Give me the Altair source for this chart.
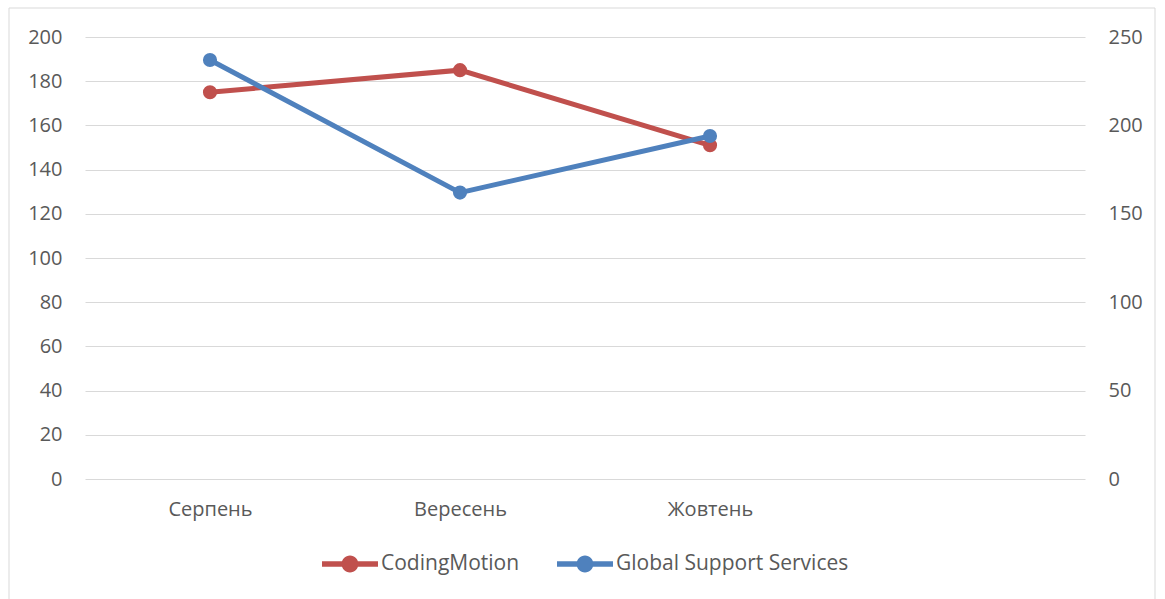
import altair as alt
import pandas as pd

months = ["Серпень", "Вересень", "Жовтень"]
domain_x = ["Серпень", "Вересень", "Жовтень", " "]
coding = [175, 185, 151]
gss = [237, 162, 194]
series = ["CodingMotion", "Global Support Services"]
colors = ["#C0504D", "#4F81BD"]
left_ticks = list(range(0, 201, 20))
right_ticks = list(range(0, 251, 50))

df_c = pd.DataFrame({"month": months, "value": coding, "series": series[0]})
df_g = pd.DataFrame({"month": months, "value": gss, "series": series[1]})

FONT = "Open Sans"
TXT = "#595959"
FS = 20

xenc = alt.X("month:N", sort=domain_x,
             scale=alt.Scale(type="point", padding=0.5, domain=domain_x),
             axis=alt.Axis(title=None, domain=False, ticks=False, grid=False,
                           labelAngle=0, labelPadding=20, labelFontSize=FS,
                           labelColor=TXT, labelFont=FONT))

legend_shape = ("M-1,-0.1L1,-0.1L1,0.1L-1,0.1Z "
                "M-0.3,0A0.3,0.3 0 1,1 0.3,0A0.3,0.3 0 1,1 -0.3,0Z")

color = alt.Color("series:N", scale=alt.Scale(domain=series, range=colors),
                  legend=alt.Legend(title=None, orient="none", direction="horizontal",
                                    legendX=237, legendY=499,
                                    symbolType=legend_shape, symbolSize=3136,
                                    symbolStrokeWidth=0, labelFontSize=21,
                                    labelColor=TXT, labelFont=FONT, labelLimit=400,
                                    columnPadding=37, labelOffset=3))

yleft = alt.Y("value:Q", scale=alt.Scale(domain=[0, 200], nice=False),
              axis=alt.Axis(title=None, values=left_ticks, domain=False, ticks=False,
                            grid=True, gridColor="#D9D9D9", gridWidth=1,
                            labelPadding=23, labelFontSize=FS, labelColor=TXT,
                            labelFont=FONT, orient="left"))
yright = alt.Y("value:Q", scale=alt.Scale(domain=[0, 250], nice=False),
               axis=alt.Axis(title=None, values=right_ticks, domain=False, ticks=False,
                             grid=False, labelPadding=23, labelFontSize=FS,
                             labelColor=TXT, labelFont=FONT, orient="right"))

border = alt.Chart(pd.DataFrame({"a": [0]})).mark_rect(
    fill="transparent", stroke="#D9D9D9", strokeWidth=1
).encode(x=alt.value(-76), x2=alt.value(1070), y=alt.value(-29), y2=alt.value(570))

red_line = alt.Chart(df_c).mark_line(strokeWidth=5).encode(x=xenc, y=yleft, color=color)
red_pts = alt.Chart(df_c).mark_point(filled=True, size=200, opacity=1).encode(x=xenc, y=yleft, color=color)
blue_line = alt.Chart(df_g).mark_line(strokeWidth=5).encode(x=xenc, y=yright, color=color)
blue_pts = alt.Chart(df_g).mark_point(filled=True, size=200, opacity=1).encode(x=xenc, y=yright, color=color)

left = alt.layer(red_line, red_pts)
right = alt.layer(blue_line, blue_pts)

chart = alt.layer(left, right, border).resolve_scale(y="independent").properties(
    width=1000, height=442,
    autosize=alt.AutoSizeParams(type="none"),
    padding={"left": 85, "top": 37, "right": 80, "bottom": 120},
    background="white",
).configure_view(stroke=None)

chart.save("out.html", embed_options={"renderer": "svg", "actions": False})
